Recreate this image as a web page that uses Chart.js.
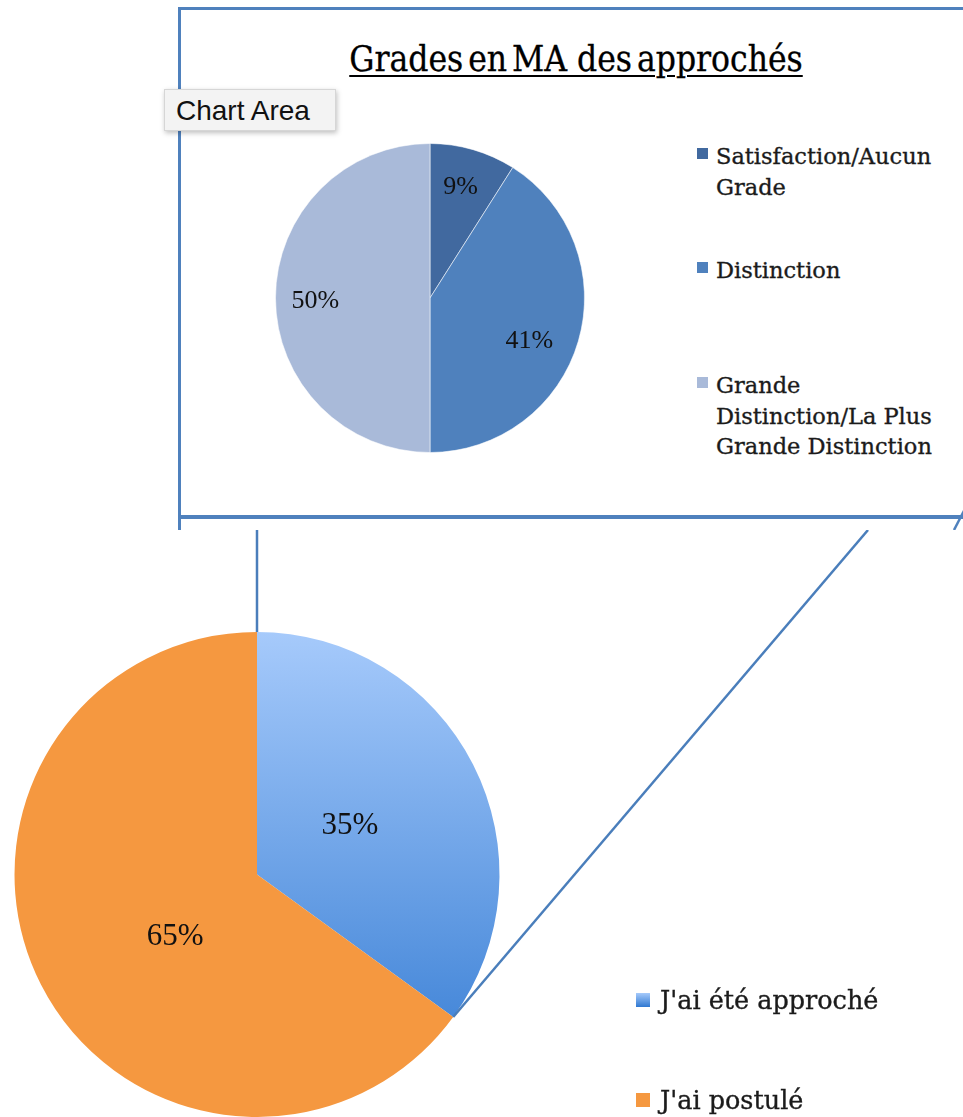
<!DOCTYPE html>
<html>
<head>
<meta charset="utf-8">
<script src="https://cdn.jsdelivr.net/npm/chart.js@4.4.1/dist/chart.umd.min.js"></script>
<style>
  html, body { margin: 0; padding: 0; background: #fff; }
  #page { position: relative; width: 963px; height: 1117px; overflow: hidden; background: #fff; }
  .abs { position: absolute; }
  #box { left: 178px; top: 7px; width: 800px; height: 505px; border-top: 3px solid #4f81bd; border-left: 3px solid #4f81bd; border-bottom: 4px solid #4f81bd; }
  #boxTail { left: 178px; top: 515px; width: 3px; height: 15px; background: #4f81bd; }
  #title { left: 178px; width: 796px; top: 39px; text-align: center; font-family: "DejaVu Serif", serif; font-stretch: condensed; font-size: 35px; color: #000; text-decoration: underline; text-decoration-thickness: 2px; text-underline-offset: 4px; white-space: pre; word-spacing: -5px; -webkit-text-stroke: 0.3px #000; }
  #tip { left: 164px; top: 89px; width: 172px; height: 42px; background: #f3f3f3; border: 1px solid #d6d6d6; box-shadow: 1px 2px 5px rgba(0,0,0,0.25); font-family: "Liberation Sans", Arial, sans-serif; font-size: 28px; line-height: 42px; color: #111; padding-left: 11px; box-sizing: border-box; }
  .leg { position: absolute; font-family: "DejaVu Serif", serif; color: #1b1b1b; white-space: nowrap; -webkit-text-stroke: 0.35px #1b1b1b; }
  .leg .sq { position: absolute; }
</style>
</head>
<body>
<div id="page">
  <canvas id="bottomChart" class="abs" width="963" height="587" style="left:0;top:530px;"></canvas>
  <div id="box" class="abs"></div>
  <div id="boxTail" class="abs"></div>
  <svg class="abs" style="left:0;top:0" width="963" height="530"><line x1="968" y1="503" x2="954" y2="530" stroke="#4f81bd" stroke-width="2.5"/></svg>
  <div id="title" class="abs"></div>
  <canvas id="topChart" class="abs" width="310" height="310" style="left:275px;top:143px;"></canvas>
  <div id="topLegend"></div>
  <div id="bottomLegend"></div>
  <div id="tip" class="abs">Chart Area</div>
</div>
<script>
// ---- data ----
const titleText = "Grades en MA  des approchés";
const topLabels = [["Satisfaction/Aucun", "Grade"], ["Distinction"], ["Grande", "Distinction/La Plus", "Grande Distinction"]];
const topValues = [9, 41, 50];
const bottomLabels = ["J'ai été approché", "J'ai postulé"];
const bottomValues = [35, 65];

// ---- styles ----
const topColors = ["#41699f", "#4f81bd", "#a9bad9"];
const orange = "#f59840";
const blueTop = "#a6cafb", blueBottom = "#2f78d1";

document.getElementById('title').textContent = titleText;

const pctPlugin = {
  id: 'pct',
  afterDatasetsDraw(chart, args, opts) {
    const ctx = chart.ctx;
    const meta = chart.getDatasetMeta(0);
    const data = chart.data.datasets[0].data;
    const total = data.reduce((a, b) => a + b, 0);
    ctx.save();
    ctx.font = opts.font;
    ctx.fillStyle = '#111';
    ctx.textAlign = 'center';
    ctx.textBaseline = 'middle';
    meta.data.forEach((arc, i) => {
      const p = arc.getProps(['x', 'y', 'startAngle', 'endAngle', 'outerRadius'], true);
      const mid = (p.startAngle + p.endAngle) / 2;
      const r = p.outerRadius * opts.ratio;
      const n = (opts.nudge && opts.nudge[i]) || [0, 0];
      const tx = p.x + Math.cos(mid) * r + n[0], ty = p.y + Math.sin(mid) * r + n[1];
      ctx.fillText(Math.round(data[i] / total * 100) + '%', tx, ty);
    });
    ctx.restore();
  }
};

const connectorPlugin = {
  id: 'connector',
  afterDatasetsDraw(chart, args, opts) {
    const ctx = chart.ctx;
    const arc = chart.getDatasetMeta(0).data[0];
    const p = arc.getProps(['x', 'y', 'endAngle', 'outerRadius'], true);
    ctx.save();
    ctx.strokeStyle = '#4a7ebb';
    ctx.lineWidth = 2.5;
    ctx.beginPath();
    ctx.moveTo(p.x, 0);
    ctx.lineTo(p.x, p.y - p.outerRadius);
    ctx.stroke();
    ctx.beginPath();
    ctx.moveTo(p.x + Math.cos(p.endAngle) * p.outerRadius, p.y + Math.sin(p.endAngle) * p.outerRadius);
    ctx.lineTo(opts.topX, 0);
    ctx.stroke();
    ctx.restore();
  }
};

const common = {
  responsive: false,
  animation: false,
  events: [],
  plugins: { legend: { display: false }, tooltip: { enabled: false }, title: { display: false } }
};

new Chart(document.getElementById('topChart'), {
  type: 'pie',
  data: { labels: topLabels, datasets: [{ data: topValues, backgroundColor: topColors, borderColor: 'rgba(255,255,255,0.55)', borderWidth: 1, hoverOffset: 0, offset: 0 }] },
  options: Object.assign({}, common, {
    layout: { padding: 0 },
    plugins: Object.assign({}, common.plugins, { pct: { font: '26px "Liberation Serif", "Times New Roman", serif', ratio: 0.73, nudge: [[-1, -3], [-9, 12], [-2, 3]] } })
  }),
  plugins: [pctPlugin]
});

function blueGradient(ctx) {
  const chart = ctx.chart;
  const a = chart.chartArea;
  if (!a) return blueBottom;
  const g = chart.ctx.createLinearGradient(0, a.top, 0, a.bottom);
  g.addColorStop(0, blueTop);
  g.addColorStop(1, blueBottom);
  return g;
}

new Chart(document.getElementById('bottomChart'), {
  type: 'pie',
  data: { labels: bottomLabels, datasets: [{ data: bottomValues, backgroundColor: (c) => c.dataIndex === 0 ? blueGradient(c) : orange, borderWidth: 0, hoverOffset: 0, offset: 0 }] },
  options: Object.assign({}, common, {
    layout: { padding: { left: 14, right: 463, top: 102, bottom: 0 } },
    plugins: Object.assign({}, common.plugins, { pct: { font: '31px "Liberation Serif", "Times New Roman", serif', ratio: 0.43, nudge: [[0, -1], [11, 15]] }, connector: { topX: 868 } })
  }),
  plugins: [connectorPlugin, pctPlugin]
});

// ---- legends (HTML, generated from the label arrays) ----
const topLeg = document.getElementById('topLegend');
const topItemTops = [141, 255, 370];
topLabels.forEach((lines, i) => {
  const d = document.createElement('div');
  d.className = 'leg';
  d.style.left = '697px';
  d.style.top = topItemTops[i] + 'px';
  d.style.fontSize = '22.5px';
  d.style.lineHeight = '30.5px';
  const sq = document.createElement('div');
  sq.className = 'sq';
  sq.style.cssText = 'left:0;top:7px;width:11px;height:11px;background:' + topColors[i];
  d.appendChild(sq);
  const t = document.createElement('div');
  t.style.marginLeft = '19px';
  t.innerHTML = lines.map(s => s.replace(/&/g, '&amp;').replace(/</g, '&lt;')).join('<br>');
  d.appendChild(t);
  topLeg.appendChild(d);
});

const botLeg = document.getElementById('bottomLegend');
const botItemTops = [983, 1083];
bottomLabels.forEach((label, i) => {
  const d = document.createElement('div');
  d.className = 'leg';
  d.style.left = '636px';
  d.style.top = botItemTops[i] + 'px';
  d.style.fontSize = '25.5px';
  d.style.lineHeight = '34px';
  const sq = document.createElement('div');
  sq.className = 'sq';
  const bg = i === 0 ? 'linear-gradient(' + blueTop + ',' + blueBottom + ')' : orange;
  sq.style.cssText = 'left:0;top:10px;width:14px;height:14px;background:' + bg;
  d.appendChild(sq);
  const t = document.createElement('div');
  t.style.marginLeft = '24px';
  t.textContent = label;
  d.appendChild(t);
  botLeg.appendChild(d);
});
</script>
</body>
</html>
